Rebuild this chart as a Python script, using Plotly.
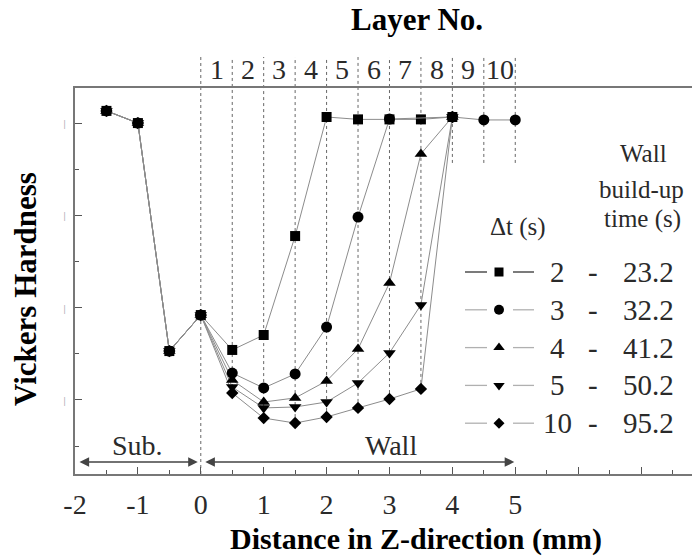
import plotly.graph_objects as go

# ---------------- data ----------------
x_sub = [-1.5, -1.0, -0.5, 0.0]
hv_sub = [406.6, 400.0, 276.5, 296.0]

x_wall = [0.5, 1.0, 1.5, 2.0, 2.5, 3.0, 3.5, 4.0, 4.5, 5.0]
hv_dt2 = [277.1, 285.2, 338.8, 403.3, 402.0, 402.0, 402.0, 403.3, None, None]
hv_dt3 = [264.6, 256.5, 264.1, 289.5, 349.1, 402.2, None, 403.3, 401.7, 401.7]
hv_dt4 = [260.8, 248.9, 251.1, 260.3, 277.6, 313.4, 383.3, 403.3, None, None]
hv_dt5 = [257.0, 245.7, 246.2, 248.9, 259.2, 275.5, 301.5, 403.3, None, None]
hv_dt10 = [253.8, 240.2, 237.5, 240.8, 245.7, 250.5, 256.0, 403.3, None, None]

dt_labels = ["2", "3", "4", "5", "10"]
buildup_labels = ["23.2", "32.2", "41.2", "50.2", "95.2"]
series_hv = [hv_dt2, hv_dt3, hv_dt4, hv_dt5, hv_dt10]
symbols = ["square", "circle", "triangle-up", "triangle-down", "diamond"]
marker_sizes = [10, 11, 11, 11, 9.5]

layer_bounds = [0.0, 0.5, 1.0, 1.5, 2.0, 2.5, 3.0, 3.5, 4.0, 4.5, 5.0]
layer_nos = ["1", "2", "3", "4", "5", "6", "7", "8", "9", "10"]
upper_guide_end = 378.4

x_tickvals = [-2, -1, 0, 1, 2, 3, 4, 5, 6, 7]
x_ticktext = ["-2", "-1", "0", "1", "2", "3", "4", "5", "", ""]
x_minor = [-1.5, -0.5, 0.5, 1.5, 2.5, 3.5, 4.5, 5.5, 6.5, 7.5]
y_tickvals = [250, 300, 350, 400]
y_minor = [225, 275, 325, 375]

sub_span = [-2.0, 0.0]
wall_span = [0.0, 5.0]
arrow_hv = 216.4

# ---------------- geometry ----------------
W, H = 692, 559
ML, MR, MT, MB = 75, 0, 88, 85
XR = [-2.0, 7.81]
YR = [209.9, 419.0]
PW, PH = W - ML - MR, H - MT - MB

def px_x(px):
    return (px - ML) / PW

def px_y(py):
    return (H - MB - py) / PH

def dx_paper(x):
    return (x - XR[0]) / (XR[1] - XR[0])

def dy_paper(y):
    return (y - YR[0]) / (YR[1] - YR[0])

SERIF = "Liberation Serif"
LINE_C = "#8c8c8c"

fig = go.Figure()

# data traces (circle series drawn last so it sits on top)
order = [4, 3, 2, 0, 1]
for i in order:
    fig.add_trace(go.Scatter(
        x=x_sub + x_wall, y=hv_sub + series_hv[i],
        mode="lines+markers", connectgaps=True,
        line=dict(color=LINE_C, width=1),
        marker=dict(symbol=symbols[i], size=marker_sizes[i], color="black",
                    line=dict(width=0)),
        showlegend=False, cliponaxis=False, hoverinfo="skip",
    ))

shapes = []
# dotted layer boundary guides
for xb in layer_bounds:
    if xb == 0.0:
        bottom = YR[0]
    elif xb < 4.0:
        k = x_wall.index(xb)
        bottom = min(s[k] for s in series_hv if s[k] is not None)
    else:
        bottom = upper_guide_end
    shapes.append(dict(type="line", xref="paper", yref="paper",
                       x0=dx_paper(xb), x1=dx_paper(xb),
                       y0=dy_paper(bottom), y1=px_y(57),
                       line=dict(color="#666", width=1, dash="dot"), layer="below"))

# custom legend
row_y0, row_step = 272, 37.8
for r in range(5):
    py = row_y0 + r * row_step
    col = "#333" if r == 0 else "#b0b0b0"
    for a, b in [(465, 487), (513, 534)]:
        shapes.append(dict(type="line", xref="paper", yref="paper",
                           x0=px_x(a), x1=px_x(b), y0=px_y(py), y1=px_y(py),
                           line=dict(color=col, width=1.3)))
    fig.add_trace(go.Scatter(
        x=[px_x(499)], y=[px_y(py)], xaxis="x2", yaxis="y2", mode="markers",
        marker=dict(symbol=symbols[r], size=marker_sizes[r] - 1, color="black"),
        showlegend=False, hoverinfo="skip", cliponaxis=False))

ann = []
def txt(t, x, y, size=27, bold=False, color="#2a2a2a", angle=0, xanchor="center",
        yanchor="middle"):
    s = "<b>%s</b>" % t if bold else t
    ann.append(dict(text=s, x=x, y=y, xref="paper", yref="paper", showarrow=False,
                    xanchor=xanchor, yanchor=yanchor, textangle=angle,
                    font=dict(family=SERIF, size=size, color=color)))

for r in range(5):
    py = row_y0 + r * row_step
    txt(dt_labels[r], px_x(557), px_y(py), size=29)
    txt("-", px_x(593), px_y(py), size=29)
    txt(buildup_labels[r], px_x(648), px_y(py), size=29)

txt("Δt (s)", px_x(518), px_y(227), size=25)
txt("Wall", px_x(643), px_y(153), size=25)
txt("build-up", px_x(641), px_y(189), size=25)
txt("time (s)", px_x(642), px_y(219), size=25)

# layer numbers
for k, lab in enumerate(layer_nos):
    mid = (layer_bounds[k] + layer_bounds[k + 1]) / 2
    txt(lab, dx_paper(mid), px_y(69), size=28)

txt("Layer No.", px_x(417), px_y(19), size=31, bold=True, color="black")
txt("Distance in Z-direction (mm)", px_x(416), px_y(539), size=30, bold=True, color="black")
txt("Vickers Hardness", px_x(25), px_y(289), size=31, bold=True, color="black", angle=-90)

# region labels
txt("Sub.", dx_paper(sum(sub_span) / 2), px_y(445), size=28)
txt("Wall", dx_paper(3.03), px_y(445), size=28)

# region arrows
for span, so, sso in [(sub_span, 3, 3), (wall_span, 1, 3)]:
    ann.append(dict(x=span[1], y=arrow_hv, ax=span[0], ay=arrow_hv,
                    xref="x", yref="y", axref="x", ayref="y", text="",
                    showarrow=True, arrowside="end+start", arrowhead=2,
                    arrowsize=1.2, arrowwidth=1.6, arrowcolor="#444",
                    standoff=so, startstandoff=sso))

fig.update_layout(
    width=W, height=H,
    margin=dict(l=ML, r=MR, t=MT, b=MB),
    paper_bgcolor="white", plot_bgcolor="white",
    shapes=shapes, annotations=ann,
    xaxis=dict(range=XR, tickmode="array", tickvals=x_tickvals, ticktext=x_ticktext,
               ticks="inside", ticklen=7, tickwidth=1, tickcolor="#555",
               minor=dict(tickmode="array", tickvals=x_minor, ticks="inside",
                          ticklen=4, tickwidth=1, tickcolor="#555"),
               showline=True, linecolor="#777", linewidth=2, mirror=True,
               showgrid=False, zeroline=False,
               tickfont=dict(family=SERIF, size=28, color="#2a2a2a"),
               ticklabelstandoff=4),
    yaxis=dict(range=YR, tickmode="array", tickvals=y_tickvals,
               ticktext=["|"] * len(y_tickvals),
               ticks="inside", ticklen=7, tickwidth=1, tickcolor="#555",
               minor=dict(tickmode="array", tickvals=y_minor, ticks="inside",
                          ticklen=4, tickwidth=1, tickcolor="#555"),
               showline=True, linecolor="#777", linewidth=2, mirror=False,
               showgrid=False, zeroline=False,
               tickfont=dict(family=SERIF, size=11, color="#999"),
               ticklabelstandoff=5),
    xaxis2=dict(range=[0, 1], overlaying="x", visible=False, showline=False,
                fixedrange=True),
    yaxis2=dict(range=[0, 1], overlaying="y", visible=False, showline=False,
                fixedrange=True),
    showlegend=False,
)

fig.write_html("out.html", config={"displayModeBar": False},
               post_script="document.body.style.margin='0';document.body.style.overflow='hidden';")
